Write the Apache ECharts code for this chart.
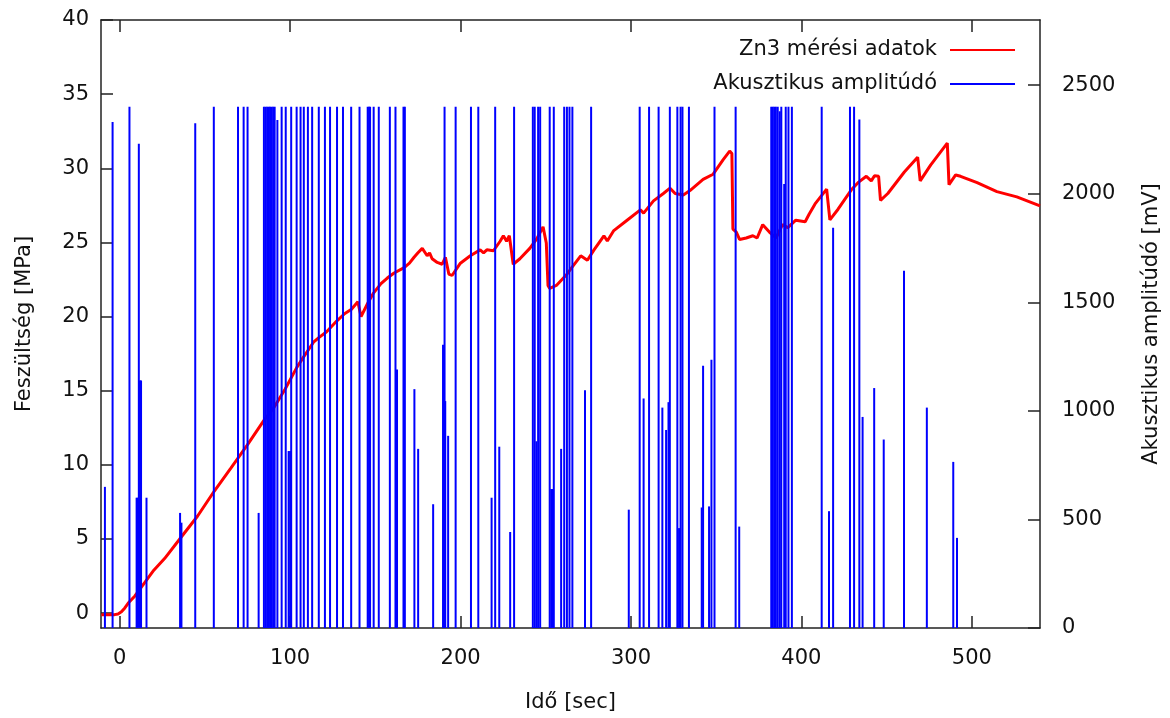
<!DOCTYPE html>
<html>
<head>
<meta charset="utf-8">
<script src="https://cdn.jsdelivr.net/npm/echarts@6/dist/echarts.min.js"></script>
<style>
html,body{margin:0;padding:0;background:#fff;overflow:hidden;}
#chart{width:1170px;height:718px;}
</style>
</head>
<body>
<div id="chart"></div>
<script>
// Stress curve (time [sec], stress [MPa])
const stressTime = [-10.8,-3,-1,1,3,5,8.9,12.7,20,26.3,36,45.7,55.4,65.1,74.8,84.6,90.4,97,104,108,113.7,117,121.4,124,127.3,131.9,136,139.7,141.6,145.5,149,153.3,157,161,166.9,170,172.7,175,177.5,180.4,181.8,183.3,186.3,189.2,191.1,193.1,195,199.9,205.7,211.5,213.5,215.4,219.3,223.2,225.1,227,228.6,230.9,234.8,240.6,244.5,248.4,250.3,251.3,252.3,256.2,262,265.9,270.5,274.4,278.3,284.1,286.1,289.9,297.7,305.5,307.4,313.2,319,322.9,325.9,330.7,334.6,342.3,348.2,354,357.9,359.2,359.8,361.8,363.7,367.6,371.5,374,377.3,381.2,385.1,388.9,392,396.7,402.2,404.5,408,414.8,416.7,421.5,429.3,433.2,438.1,441,442.9,445.3,446.4,450.7,460.4,468.2,469.7,475.9,485.6,486.6,490.5,493.4,503.1,514.7,526.4,540];
const stressMPa = [-0.1,-0.1,-0.05,0.09,0.35,0.68,1.16,1.76,2.9,3.68,5.12,6.55,8.22,9.77,11.33,13.0,13.85,15.1,16.59,17.3,18.27,18.6,18.98,19.3,19.7,20.19,20.5,21.0,20.0,20.9,21.6,22.22,22.6,22.94,23.3,23.6,24.0,24.3,24.6,24.1,24.3,23.9,23.65,23.53,24.0,22.87,22.77,23.6,24.1,24.5,24.3,24.5,24.44,25.08,25.45,25.08,25.45,23.53,23.9,24.6,25.2,26.05,24.96,22.1,21.9,22.1,22.8,23.4,24.1,23.8,24.5,25.45,25.1,25.8,26.5,27.2,26.98,27.8,28.3,28.66,28.3,28.2,28.5,29.25,29.6,30.57,31.16,31.0,25.9,25.7,25.2,25.3,25.45,25.3,26.2,25.7,25.3,26.2,26.0,26.5,26.4,26.9,27.6,28.6,26.52,27.24,28.55,29.03,29.46,29.15,29.5,29.46,27.84,28.3,29.75,30.75,29.15,30.23,31.7,28.9,29.55,29.46,29.03,28.43,28.07,27.47];

// Acoustic emission events (time [sec], amplitude [mV])
const ampTime = [-8.7,-4.2,5.7,9.9,10.5,11.2,11.9,12.5,15.7,35.4,36.2,44.3,55.2,69.4,72.7,75.0,81.5,84.6,85.6,86.5,87.4,88.2,89.1,90.0,90.9,92.5,95.0,97.4,99.1,100.0,100.6,103.8,106.1,108.0,110.4,112.9,116.8,120.4,123.4,127.5,131.0,135.8,140.7,145.5,146.3,146.9,149.0,152.0,158.5,161.8,162.7,166.5,167.3,172.9,175.1,183.9,189.7,190.6,191.0,192.7,197.1,206.1,210.4,218.2,220.3,222.7,229.1,231.4,242.4,243.5,244.5,245.5,246.7,252.3,253.2,254.2,254.7,259.0,260.8,262.4,263.9,265.6,273.0,276.6,298.7,305.1,307.4,310.6,316.2,318.4,320.6,322.0,322.8,327.2,328.2,329.1,330.2,334.0,341.5,342.3,345.8,347.2,349.0,361.4,363.5,382.3,383.2,384.1,385.0,386.1,387.3,388.2,389.9,390.8,392.4,394.4,411.9,416.2,418.6,428.5,430.9,434.0,435.9,442.7,448.3,460.2,473.6,489.1,491.3];
const ampMV = [650,2330,2400,600,600,2230,1140,1140,600,530,485,2325,2400,2400,2400,2400,530,2400,2400,2400,2400,2400,2400,2400,2400,2340,2400,2400,815,815,2400,2400,2400,2400,2400,2400,2400,2400,2400,2400,2400,2400,2400,2400,2400,2400,2400,2400,2400,2400,1190,2400,2400,1100,825,570,1305,2400,1045,885,2400,2400,2400,600,2400,835,442,2400,2400,2400,860,2400,2400,2400,640,640,2400,825,2400,2400,2400,2400,1095,2400,545,2400,1057,2400,2400,1015,912,1040,2400,2400,460,2400,2400,2400,555,1208,560,1235,2400,2400,467,2400,2400,2400,2400,2400,2380,2400,2045,2400,2400,2400,2400,538,1843,2400,2400,2342,972,1105,868,1645,1015,765,415];

const xTicks = [0,100,200,300,400,500];
const yTicks = [0,5,10,15,20,25,30,35,40];
const y2Ticks = [0,500,1000,1500,2000,2500];

const FONT = 'DejaVu Sans';
const TXT = '#111';

const chart = echarts.init(document.getElementById('chart'), null, {renderer:'canvas'});
const stressData = stressTime.map((t,i)=>[t, stressMPa[i]]);
const ampData = ampTime.map((t,i)=>[t, ampMV[i]]);

const axisLineStyle = {show:true, onZero:false, lineStyle:{color:'#222', width:1.5}};
const tickStyle = (vals)=>({show:true, inside:true, length:12, customValues:vals, lineStyle:{color:'#222', width:1.5}});
const plain = (v)=>String(v);

chart.setOption({
  animation:false,
  backgroundColor:'#fff',
  textStyle:{fontFamily:FONT},
  grid:{left:101, right:123, top:20, bottom:88, containLabel:false},
  legend:{
    orient:'vertical', right:150, top:33, align:'right',
    itemWidth:65, itemHeight:2, itemGap:10,
    textStyle:{fontFamily:FONT, fontSize:21, color:TXT, lineHeight:24, padding:[0,8,0,0]},
    data:[{name:'Zn3 mérési adatok', icon:'rect'},{name:'Akusztikus amplitúdó', icon:'rect'}]
  },
  xAxis:[
    {type:'value', min:-11, max:540, position:'bottom',
     axisLine:axisLineStyle, axisTick:tickStyle(xTicks),
     axisLabel:{customValues:xTicks, formatter:plain, fontFamily:FONT, fontSize:21, color:TXT, margin:20},
     splitLine:{show:false},
     name:'Idő [sec]', nameLocation:'middle', nameGap:64,
     nameTextStyle:{fontFamily:FONT, fontSize:21, color:TXT}},
    {type:'value', min:-11, max:540, position:'top',
     axisLine:axisLineStyle, axisTick:tickStyle(xTicks),
     axisLabel:{show:false}, splitLine:{show:false}}
  ],
  yAxis:[
    {type:'value', min:-1, max:40, position:'left',
     axisLine:axisLineStyle, axisTick:tickStyle(yTicks),
     axisLabel:{customValues:yTicks, formatter:plain, fontFamily:FONT, fontSize:21, color:TXT, margin:12},
     splitLine:{show:false},
     name:'Feszültség [MPa]', nameLocation:'middle', nameGap:66, nameRotate:90,
     nameTextStyle:{fontFamily:FONT, fontSize:21, color:TXT}},
    {type:'value', min:0, max:2800, position:'right',
     axisLine:axisLineStyle, axisTick:tickStyle(y2Ticks),
     axisLabel:{customValues:y2Ticks, formatter:plain, fontFamily:FONT, fontSize:21, color:TXT, margin:22},
     splitLine:{show:false},
     name:'Akusztikus amplitúdó [mV]', nameLocation:'middle', nameGap:101, nameRotate:90,
     nameTextStyle:{fontFamily:FONT, fontSize:21, color:TXT}}
  ],
  series:[
    {name:'Zn3 mérési adatok', type:'line', xAxisIndex:0, yAxisIndex:0,
     data:stressData, showSymbol:false, symbol:'none', z:2,
     lineStyle:{color:'#ff0000', width:3}, itemStyle:{color:'#ff0000'}},
    {name:'Akusztikus amplitúdó', type:'bar', xAxisIndex:0, yAxisIndex:1,
     data:ampData, barWidth:2, z:3,
     itemStyle:{color:'#0000ff'}}
  ]
});
</script>
</body>
</html>
